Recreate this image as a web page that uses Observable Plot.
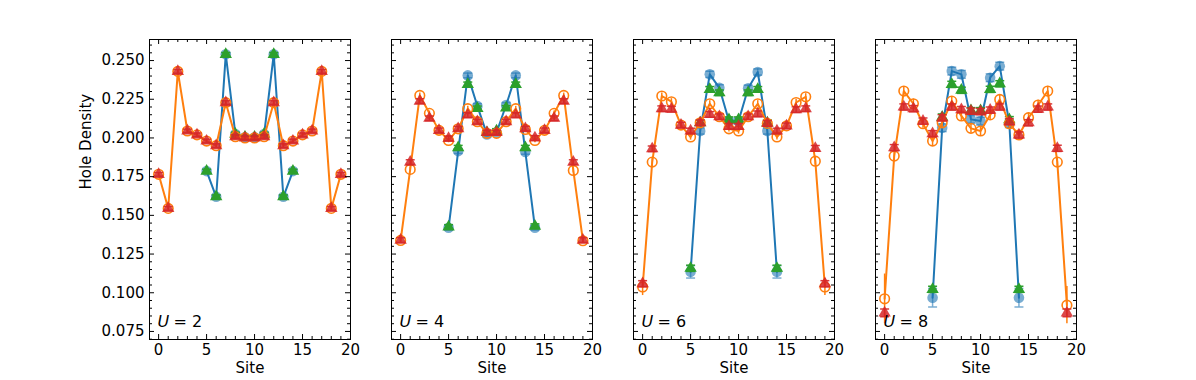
<!DOCTYPE html>
<html><head><meta charset="utf-8">
<script src="https://cdn.jsdelivr.net/npm/d3@7"></script>
<script src="https://cdn.jsdelivr.net/npm/@observablehq/plot@0.6"></script>
<style>
body{margin:0;background:#fff}
#chart{position:relative;width:1196px;height:380px;overflow:hidden;background:#fff}
#chart svg{position:absolute;top:0}
</style>
</head><body><div id="chart"></div>
<script>
// ---- data ----
const sitesAll = [0,1,2,3,4,5,6,7,8,9,10,11,12,13,14,15,16,17,18,19];
const sitesCenter = [5,6,7,8,9,10,11,12,13,14];
const uValues = [2, 4, 6, 8];

const orangeU2 = [0.1765,0.1545,0.2430,0.2045,0.2020,0.1980,0.1950,0.2228,0.2008,0.2000,0.2000,0.2008,0.2228,0.1950,0.1980,0.2020,0.2045,0.2430,0.1545,0.1765];
const redU2    = [0.1765,0.1545,0.2430,0.2045,0.2020,0.1980,0.1950,0.2228,0.2008,0.2000,0.2000,0.2008,0.2228,0.1950,0.1980,0.2020,0.2045,0.2430,0.1545,0.1765];
const blueU2   = [0.1786,0.1620,0.2540,0.2025,0.2005,0.2005,0.2025,0.2540,0.1620,0.1786];
const greenU2  = [0.1786,0.1620,0.2540,0.2025,0.2005,0.2005,0.2025,0.2540,0.1620,0.1786];

const orangeU4 = [0.1338,0.1797,0.2275,0.2159,0.2049,0.1984,0.2059,0.2189,0.2105,0.2030,0.2030,0.2105,0.2189,0.2055,0.1984,0.2049,0.2159,0.2275,0.1790,0.1336];
const redU4    = [0.1340,0.1844,0.2238,0.2127,0.2049,0.1997,0.2060,0.2148,0.2105,0.2035,0.2035,0.2105,0.2148,0.2060,0.2000,0.2049,0.2127,0.2238,0.1844,0.1340];
const blueU4   = [0.1420,0.1915,0.2404,0.2206,0.2023,0.2035,0.2213,0.2404,0.1910,0.1420];
const greenU4  = [0.1425,0.1937,0.2346,0.2191,0.2035,0.2045,0.2194,0.2346,0.1937,0.1430];

const orangeU6 = [0.1037,0.1844,0.2271,0.2234,0.2083,0.2006,0.2098,0.2221,0.2137,0.2059,0.2045,0.2137,0.2221,0.2094,0.2006,0.2078,0.2229,0.2266,0.1850,0.1037];
const redU6    = [0.1058,0.1930,0.2189,0.2186,0.2083,0.2045,0.2098,0.2152,0.2137,0.2075,0.2075,0.2137,0.2156,0.2094,0.2045,0.2078,0.2183,0.2189,0.1933,0.1058];
const blueU6   = [0.1135,0.2045,0.2411,0.2324,0.2109,0.2109,0.2321,0.2426,0.2045,0.1135];
const greenU6  = [0.1158,0.2098,0.2314,0.2292,0.2118,0.2118,0.2292,0.2314,0.2098,0.1158];

const orangeU8 = [0.0961,0.1883,0.2303,0.2221,0.2092,0.1980,0.2098,0.2238,0.2142,0.2062,0.2045,0.2149,0.2249,0.2092,0.2019,0.2131,0.2213,0.2303,0.1844,0.0920];
const redU8    = [0.0870,0.1937,0.2200,0.2189,0.2109,0.2027,0.2130,0.2200,0.2183,0.2173,0.2170,0.2180,0.2200,0.2105,0.2019,0.2098,0.2186,0.2200,0.1933,0.0870];
const blueU8   = [0.0968,0.2066,0.2432,0.2411,0.2120,0.2109,0.2389,0.2464,0.2092,0.0968];
const greenU8  = [0.1022,0.2135,0.2346,0.2308,0.2176,0.2176,0.2314,0.2350,0.2118,0.1022];

// error bars
const errOrangeU2 = [0.001,0.001,0.001,0.001,0.001,0.001,0.001,0.001,0.001,0.001,0.001,0.001,0.001,0.001,0.001,0.001,0.001,0.001,0.001,0.001];
const errRedU2    = [0.0012,0.0012,0.0012,0.0012,0.0012,0.0012,0.0012,0.0012,0.0012,0.0012,0.0012,0.0012,0.0012,0.0012,0.0012,0.0012,0.0012,0.0012,0.0012,0.0012];
const errBlueU2   = [0.001,0.001,0.001,0.001,0.001,0.001,0.001,0.001,0.001,0.001];
const errGreenU2  = [0.0012,0.0012,0.0012,0.0012,0.0012,0.0012,0.0012,0.0012,0.0012,0.0012];

const errOrangeU4 = [0.0015,0.0015,0.0015,0.0015,0.0015,0.0015,0.0015,0.0015,0.0015,0.0015,0.0015,0.0015,0.0015,0.0015,0.0015,0.0015,0.0015,0.0015,0.0015,0.0015];
const errRedU4    = [0.0015,0.0015,0.0015,0.0015,0.0015,0.0015,0.0015,0.0015,0.0015,0.0015,0.0015,0.0015,0.0015,0.0015,0.0015,0.0015,0.0015,0.0015,0.0015,0.0015];
const errBlueU4   = [0.0015,0.0015,0.0015,0.0015,0.0015,0.0015,0.0015,0.0015,0.0015,0.0015];
const errGreenU4  = [0.0015,0.0015,0.0015,0.0015,0.0015,0.0015,0.0015,0.0015,0.0015,0.0015];

const errOrangeU6 = [0.0055,0.0025,0.002,0.002,0.002,0.002,0.002,0.002,0.002,0.002,0.002,0.002,0.002,0.002,0.002,0.002,0.002,0.002,0.0025,0.0055];
const errRedU6    = [0.002,0.0018,0.0018,0.0018,0.0018,0.0018,0.0018,0.0018,0.0018,0.0018,0.0018,0.0018,0.0018,0.0018,0.0018,0.0018,0.0018,0.0018,0.0018,0.002];
const errBlueU6   = [0.004,0.002,0.002,0.002,0.002,0.002,0.002,0.002,0.002,0.004];
const errGreenU6  = [0.002,0.0018,0.0018,0.0018,0.0018,0.0018,0.0018,0.0018,0.0018,0.002];

const errOrangeU8 = [0.016,0.003,0.003,0.003,0.003,0.003,0.003,0.003,0.003,0.003,0.003,0.003,0.003,0.003,0.003,0.003,0.003,0.003,0.003,0.012];
const errRedU8    = [0.0025,0.002,0.002,0.002,0.002,0.002,0.002,0.002,0.002,0.002,0.002,0.002,0.002,0.002,0.002,0.002,0.002,0.002,0.002,0.0025];
const errBlueU8   = [0.006,0.0025,0.0025,0.0025,0.0025,0.0025,0.0025,0.0025,0.0025,0.006];
const errGreenU8  = [0.002,0.002,0.002,0.002,0.002,0.002,0.002,0.002,0.002,0.002];

// ticks
const xMajor = [0,5,10,15,20];
const xMinor = [1,2,3,4,6,7,8,9,11,12,13,14,16,17,18,19];
const yMajor = [0.075,0.100,0.125,0.150,0.175,0.200,0.225,0.250];
const yMinor = [0.070,0.080,0.085,0.090,0.095,0.105,0.110,0.115,0.120,0.130,0.135,0.140,0.145,0.155,0.160,0.165,0.170,0.180,0.185,0.190,0.195,0.205,0.210,0.215,0.220,0.230,0.235,0.240,0.245,0.255,0.260];

const panels = [
  {u: 2, orange: orangeU2, red: redU2, blue: blueU2, green: greenU2, eO: errOrangeU2, eR: errRedU2, eB: errBlueU2, eG: errGreenU2},
  {u: 4, orange: orangeU4, red: redU4, blue: blueU4, green: greenU4, eO: errOrangeU4, eR: errRedU4, eB: errBlueU4, eG: errGreenU4},
  {u: 6, orange: orangeU6, red: redU6, blue: blueU6, green: greenU6, eO: errOrangeU6, eR: errRedU6, eB: errBlueU6, eG: errGreenU6},
  {u: 8, orange: orangeU8, red: redU8, blue: blueU8, green: greenU8, eO: errOrangeU8, eR: errRedU8, eB: errBlueU8, eG: errGreenU8}
];

// ---- layout ----
const FW = 201, FH = 300, MT = 39, MB = 41;
const frameLefts = [149, 391, 633, 875];
const C = {blue: "#1f77b4", orange: "#ff7f0e", green: "#2ca02c", red: "#d62728"};
const FONT = "DejaVu Sans";
const FS = 15;

const capSymbol = {draw(ctx, size) { const w = Math.sqrt(size / Math.PI); ctx.moveTo(-w, 0); ctx.lineTo(w, 0); }};

function rows(sites, vals, errs) { return sites.map((s, i) => ({site: s, v: vals[i], e: errs[i]})); }

function errMarks(data, color, opacity, caps = true) {
  const m = [Plot.ruleX(data, {x: "site", y1: d => d.v - d.e, y2: d => d.v + d.e, stroke: color, strokeWidth: 1.5, strokeOpacity: opacity})];
  if (caps) {
    m.push(Plot.dot(data, {x: "site", y: d => d.v - d.e, symbol: capSymbol, r: 4.5, stroke: color, fill: "none", strokeWidth: 1.5, strokeOpacity: opacity}));
    m.push(Plot.dot(data, {x: "site", y: d => d.v + d.e, symbol: capSymbol, r: 4.5, stroke: color, fill: "none", strokeWidth: 1.5, strokeOpacity: opacity}));
  }
  return m;
}

const chart = document.getElementById("chart");

panels.forEach((p, i) => {
  const first = i === 0;
  const mL = first ? 149 : 45, mR = 22;
  const blueRows = rows(sitesCenter, p.blue, p.eB);
  const greenRows = rows(sitesCenter, p.green, p.eG);
  const orangeRows = rows(sitesAll, p.orange, p.eO);
  const redRows = rows(sitesAll, p.red, p.eR);
  const tickStyle = {stroke: "#000", strokeWidth: 1};
  const marks = [
    // blue series
    Plot.line(blueRows, {x: "site", y: "v", stroke: C.blue, strokeWidth: 2}),
    ...errMarks(blueRows, C.blue, 0.6),
    Plot.dot(blueRows, {x: "site", y: "v", r: 5.3, fill: C.blue, fillOpacity: 0.6, stroke: "none"}),
    // green series
    ...errMarks(greenRows, C.green, 1),
    Plot.dot(greenRows, {x: "site", y: "v", symbol: "triangle", r: 4.6, fill: C.green, stroke: "none"}),
    // orange series
    Plot.line(orangeRows, {x: "site", y: "v", stroke: C.orange, strokeWidth: 2}),
    ...errMarks(orangeRows, C.orange, 1, false),
    Plot.dot(orangeRows, {x: "site", y: "v", r: 4.8, fill: "none", stroke: C.orange, strokeWidth: 1.6}),
    // red series
    ...errMarks(redRows, C.red, 0.9),
    Plot.dot(redRows, {x: "site", y: "v", symbol: "triangle", r: 4.6, fill: C.red, fillOpacity: 0.85, stroke: "none"}),
    // frame
    Plot.frame({stroke: "#000", strokeWidth: 1}),
    // inward ticks, all four sides
    Plot.ruleX(xMajor, {x: d => d, insetTop: FH - 5, ...tickStyle}),
    Plot.ruleX(xMajor, {x: d => d, insetBottom: FH - 5, ...tickStyle}),
    Plot.ruleX(xMinor, {x: d => d, insetTop: FH - 3, ...tickStyle}),
    Plot.ruleX(xMinor, {x: d => d, insetBottom: FH - 3, ...tickStyle}),
    Plot.ruleY(yMajor, {y: d => d, insetRight: FW - 5, ...tickStyle}),
    Plot.ruleY(yMajor, {y: d => d, insetLeft: FW - 5, ...tickStyle}),
    Plot.ruleY(yMinor, {y: d => d, insetRight: FW - 3, ...tickStyle}),
    Plot.ruleY(yMinor, {y: d => d, insetLeft: FW - 3, ...tickStyle}),
    // tick labels
    Plot.axisX(xMajor, {tickSize: 0, tickPadding: 5, fontSize: FS, label: null, tickFormat: d => String(d)}),
    Plot.text(["Site"], {frameAnchor: "bottom", dy: 33, fontSize: FS, fill: "#000"}),
    // U label
    Plot.text(["U"], {frameAnchor: "bottom-left", dx: 8, dy: -13, fontStyle: "italic", textAnchor: "start", fontSize: 16, fill: "#000"}),
    Plot.text([`= ${p.u}`], {frameAnchor: "bottom-left", dx: 24, dy: -13, textAnchor: "start", fontSize: 16, fill: "#000"})
  ];
  if (first) {
    marks.push(Plot.axisY(yMajor, {tickSize: 0, tickPadding: 5, fontSize: FS, label: null, tickFormat: d3.format(".3f")}));
    marks.push(Plot.text(["Hole Density"], {frameAnchor: "left", dx: -63, rotate: -90, fontSize: FS, fill: "#000"}));
  }
  const svg = Plot.plot({
    width: mL + FW + mR, height: 380,
    marginLeft: mL, marginRight: mR, marginTop: MT, marginBottom: MB,
    x: {domain: [-0.95, 20], axis: null},
    y: {domain: [0.0698, 0.2636], axis: null},
    style: {fontFamily: FONT, fontSize: FS + "px", background: "transparent", overflow: "visible", color: "#000"},
    marks
  });
  svg.style.left = (frameLefts[i] - mL) + "px";
  svg.style.maxWidth = "none";
  chart.appendChild(svg);
});
</script>
</body></html>
